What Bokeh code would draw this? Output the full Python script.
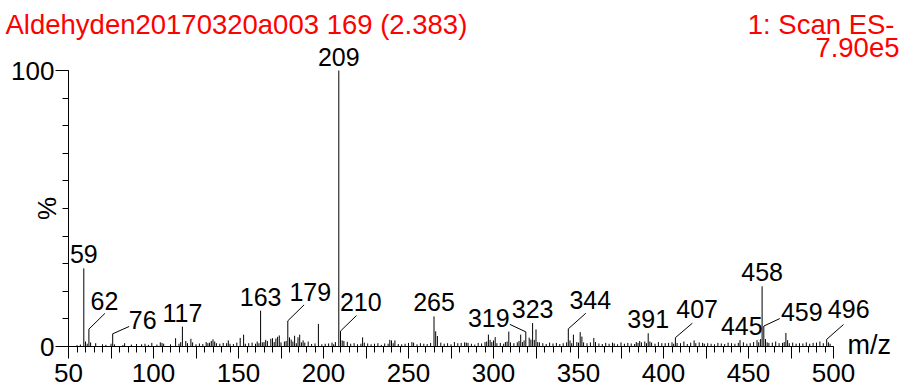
from math import pi
from bokeh.plotting import figure
from bokeh.models import Range1d, FixedTicker, Label, LinearAxis
from bokeh.embed import file_html
from bokeh.resources import INLINE

# ---- data (m/z, relative intensity %) ----
mz = [55, 57, 59, 60, 61, 62, 63, 66, 70, 72, 75, 76, 77, 82, 83, 87, 90, 93, 95, 97,
      99, 102, 104, 105, 106, 110, 113, 115, 116, 117, 119, 120, 122, 123, 125, 127,
      129, 131, 132, 133, 134, 135, 136, 137, 139, 141, 143, 144, 145, 147, 149, 151,
      153, 154, 156, 158, 160, 161, 162, 163, 164, 165, 166, 167, 169, 170, 171, 172,
      173, 174, 175, 177, 178, 179, 180, 181, 182, 183, 184, 185, 186, 187, 188, 189,
      191, 193, 195, 197, 199, 201, 203, 205, 206, 207, 209, 210, 211, 212, 214, 216,
      218, 220, 222, 223, 224, 226, 228, 230, 232, 234, 236, 238, 239, 240, 241, 242,
      244, 246, 248, 250, 252, 253, 255, 257, 259, 261, 263, 265, 266, 267, 269, 271,
      273, 275, 277, 279, 281, 283, 284, 285, 287, 289, 291, 293, 295, 296, 297, 298,
      299, 300, 301, 302, 304, 306, 307, 308, 309, 310, 312, 314, 315, 316, 317, 318,
      319, 321, 322, 323, 324, 325, 326, 327, 329, 331, 333, 335, 337, 339, 341, 343,
      344, 345, 346, 347, 349, 350, 351, 352, 353, 355, 357, 359, 360, 362, 364, 366,
      368, 370, 371, 373, 375, 377, 379, 381, 383, 384, 385, 386, 387, 389, 390, 391,
      392, 393, 395, 397, 399, 401, 403, 405, 406, 407, 408, 410, 412, 414, 416, 418,
      419, 421, 423, 424, 426, 428, 430, 432, 434, 436, 438, 440, 442, 444, 445, 447,
      449, 451, 453, 455, 456, 457, 458, 459, 460, 461, 462, 464, 466, 468, 470, 471,
      472, 473, 474, 476, 478, 480, 482, 484, 486, 488, 490, 492, 494, 496, 497, 498]
intensity = [0.5, 0.7, 28.3, 1.8, 1.0, 6.3, 1.5, 1.2, 0.8, 0.6, 1.0, 4.6, 0.8, 0.5, 1.2, 0.7, 0.9, 0.8, 1.0, 0.6,
             1.3, 0.7, 1.5, 1.3, 1.0, 0.8, 3.0, 1.0, 1.6, 7.2, 2.0, 1.2, 2.8, 1.5, 0.8, 1.1,
             0.9, 1.6, 1.2, 1.4, 2.0, 2.6, 1.8, 1.2, 1.0, 1.3, 1.2, 2.2, 1.0, 0.9, 1.4, 3.1,
             4.3, 1.0, 1.2, 1.4, 1.0, 1.8, 1.2, 13.0, 1.5, 1.6, 2.4, 2.0, 2.8, 3.0, 1.6, 2.9,
             3.5, 4.0, 1.5, 1.8, 2.0, 9.3, 3.3, 2.5, 1.8, 3.9, 1.2, 3.3, 4.3, 1.5, 2.2, 1.4,
             1.8, 0.9, 1.1, 8.2, 0.8, 1.0, 1.1, 1.4, 0.8, 1.6, 100.0, 5.6, 2.2, 2.0, 1.7, 1.0,
             1.2, 0.8, 1.0, 3.3, 1.4, 1.1, 0.8, 1.0, 1.2, 0.6, 1.1, 1.0, 2.4, 2.2, 1.2, 2.2,
             0.9, 0.8, 1.0, 1.3, 1.6, 1.4, 0.8, 1.2, 1.0, 0.9, 1.3, 10.9, 5.5, 3.8, 1.4, 1.0,
             1.2, 0.8, 1.6, 1.2, 1.3, 1.5, 1.4, 1.3, 1.0, 0.7, 1.3, 1.1, 1.6, 1.8, 4.3, 2.4,
             1.6, 2.2, 3.4, 1.2, 1.3, 1.0, 1.6, 1.8, 5.4, 1.5, 1.2, 1.5, 2.0, 4.3, 1.6, 2.2,
             5.3, 3.2, 2.5, 8.5, 2.4, 6.2, 1.6, 1.5, 1.2, 0.9, 1.4, 1.1, 1.3, 0.9, 1.2, 1.5,
             6.4, 2.2, 1.2, 4.3, 1.6, 1.4, 5.2, 3.6, 1.5, 1.2, 1.5, 3.1, 1.6, 1.1, 0.9, 1.3,
             1.0, 1.4, 1.1, 0.8, 1.5, 1.0, 1.3, 1.1, 0.9, 1.6, 1.3, 2.0, 1.5, 1.8, 1.2, 4.8,
             1.8, 1.4, 1.0, 1.6, 1.2, 1.2, 1.3, 1.5, 1.0, 3.2, 1.3, 1.2, 1.8, 0.9, 1.4, 2.2,
             1.2, 1.5, 1.3, 1.0, 1.2, 1.0, 0.8, 1.3, 1.1, 0.9, 1.4, 1.2, 1.0, 1.3, 2.3, 1.5,
             1.0, 1.2, 1.6, 2.3, 1.5, 2.7, 21.8, 7.4, 2.7, 1.5, 1.3, 1.4, 1.8, 1.2, 1.3, 1.6,
             4.9, 2.3, 1.2, 1.4, 1.0, 1.2, 1.1, 1.5, 1.0, 1.3, 1.4, 1.8, 1.2, 2.6, 1.5, 1.0]

labelled_mz = [59, 62, 76, 117, 163, 179, 209, 210, 265, 319, 323, 344, 391, 407, 445, 458, 459, 496]

title_text = "Aldehyden20170320a003 169 (2.383)"
scan_text = "1: Scan ES-"
tic_text = "7.90e5"
x_ticks = list(range(50, 501, 25))
x_labelled = list(range(50, 501, 50))
y_ticks = [0, 100]

# ---- layout / style (pixel offsets of peak labels relative to peak tops) ----
label_dx = {62: 15.6, 76: 30, 179: 22.5, 210: 20.3, 319: -37, 344: 22, 407: 21.7, 445: 1.8, 459: 38, 496: 22}
label_dy = {62: 19, 179: 20, 210: 20.5, 344: 20, 407: 20, 496: 21.5}
leader = {62: (16, 15.7), 76: (16.4, 7.3), 179: (16.3, 16), 210: (16, 15.5), 319: (-16, 7.5),
          344: (17.5, 15.6), 407: (17, 14.5), 459: (16, 7.5), 496: (16.8, 14.8)}

W, H = 903, 387
L, R, T, B = 68, 70, 70, 41        # pixel margins around the 50..500 x 0..100 area
FONT = "Liberation Sans"
RED = "#ff0000"
BASE_FIX = 0.36                     # baseline correction, in em


def fix(size):
    return BASE_FIX * size


sx = (W - L - R) / 450.0
sy = (H - T - B) / 100.0

p = figure(width=W, height=H, output_backend="svg", toolbar_location=None,
           x_axis_location=None, y_axis_location=None,
           x_range=Range1d(50 - L / sx, 500 + R / sx),
           y_range=Range1d(0 - B / sy, 100 + T / sy),
           min_border=0)
p.outline_line_color = None
p.xgrid.visible = False
p.ygrid.visible = False
p.background_fill_color = "white"
p.border_fill_color = "white"

xa = LinearAxis(fixed_location=0, bounds=(50, 500))
xa.ticker = FixedTicker(ticks=x_ticks, minor_ticks=list(range(50, 501, 5)))
xa.major_label_overrides = {t: "" for t in x_ticks if t not in x_labelled}
xa.major_tick_in = 0
xa.major_tick_out = 12
xa.minor_tick_in = 0
xa.minor_tick_out = 6
xa.major_label_standoff = 5
xa.major_label_text_font = FONT
xa.major_label_text_font_size = "26px"
xa.major_label_text_color = "black"
xa.axis_line_color = "black"
xa.major_tick_line_color = "black"
xa.minor_tick_line_color = "black"
p.add_layout(xa, "below")

ya = LinearAxis(fixed_location=50, bounds=(0, 100))
ya.ticker = FixedTicker(ticks=y_ticks, minor_ticks=list(range(0, 101, 10)))
ya.major_tick_in = 0
ya.major_tick_out = 13
ya.minor_tick_in = 0
ya.minor_tick_out = 6
ya.major_label_standoff = 1
ya.major_label_text_font = FONT
ya.major_label_text_font_size = "26px"
ya.major_label_text_color = "black"
ya.major_label_orientation = "horizontal"
ya.axis_line_color = "black"
ya.major_tick_line_color = "black"
ya.minor_tick_line_color = "black"
p.add_layout(ya, "left")

# sticks
p.segment(x0=mz, y0=[0] * len(mz), x1=mz, y1=intensity, line_color="black", line_width=1)

inten = dict(zip(mz, intensity))

lx0, ly0, lx1, ly1 = [], [], [], []
for m in labelled_mz:
    iv = inten[m]
    p.add_layout(Label(x=m, y=iv, x_offset=label_dx.get(m, 0), y_offset=label_dy.get(m, 5) + fix(25),
                       text=str(m), text_align="center", text_baseline="alphabetic",
                       text_font=FONT, text_font_size="25px", text_color="black"))
    if m in leader:
        dx, dy = leader[m]
        lx0.append(m); ly0.append(iv)
        lx1.append(m + dx / sx); ly1.append(iv + dy / sy)
p.segment(x0=lx0, y0=ly0, x1=lx1, y1=ly1, line_color="black", line_width=1)

# header texts
p.add_layout(Label(x=50, y=100, x_offset=-63, y_offset=36 + fix(27.5), text=title_text, text_align="left",
                   text_baseline="alphabetic", text_font=FONT, text_font_size="27.5px", text_color=RED))
p.add_layout(Label(x=500, y=100, x_offset=61, y_offset=36 + fix(27.5), text=scan_text, text_align="right",
                   text_baseline="alphabetic", text_font=FONT, text_font_size="27.5px", text_color=RED))
p.add_layout(Label(x=500, y=100, x_offset=66, y_offset=13 + fix(27.5), text=tic_text, text_align="right",
                   text_baseline="alphabetic", text_font=FONT, text_font_size="27.5px", text_color=RED))

# axis titles
p.add_layout(Label(x=50, y=50, x_offset=-22, y_offset=0, text="%", angle=pi / 2,
                   text_align="center", text_baseline="middle",
                   text_font=FONT, text_font_size="26px", text_color="black"))
p.add_layout(Label(x=500, y=0, x_offset=14, y_offset=-8 + fix(27), text="m/z", text_align="left",
                   text_baseline="alphabetic", text_font=FONT, text_font_size="27px", text_color="black"))

open("out.html", "w").write(file_html(p, INLINE))
